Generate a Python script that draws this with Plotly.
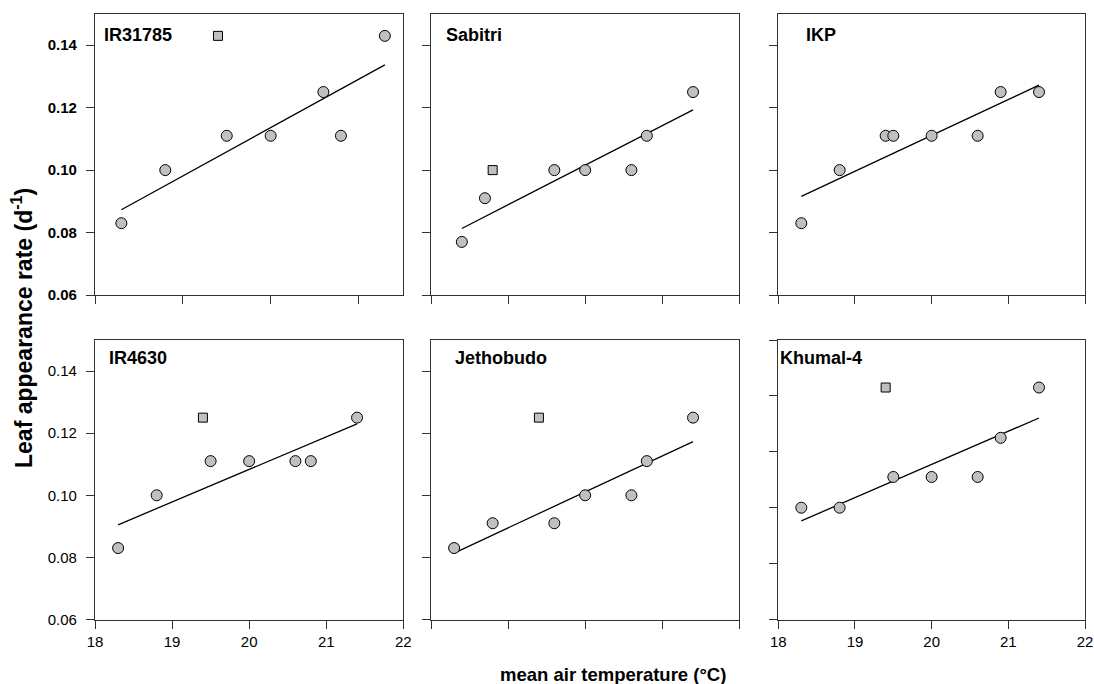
import plotly.graph_objects as go

FONT = "Liberation Sans, Arial, sans-serif"

names = ["IR31785", "Sabitri", "IKP", "IR4630", "Jethobudo", "Khumal-4"]

# circle observations (mean air temperature, leaf appearance rate)
circ_x = [
    [18.3, 18.8, 19.5, 20.0, 20.6, 20.8, 21.3],
    [18.4, 18.7, 19.6, 20.0, 20.6, 20.8, 21.4],
    [18.3, 18.8, 19.4, 19.5, 20.0, 20.6, 20.9, 21.4],
    [18.3, 18.8, 19.5, 20.0, 20.6, 20.8, 21.4],
    [18.3, 18.8, 19.6, 20.0, 20.6, 20.8, 21.4],
    [18.3, 18.8, 19.5, 20.0, 20.6, 20.9, 21.4],
]
circ_y = [
    [0.083, 0.100, 0.111, 0.111, 0.125, 0.111, 0.143],
    [0.077, 0.091, 0.100, 0.100, 0.100, 0.111, 0.125],
    [0.083, 0.100, 0.111, 0.111, 0.111, 0.111, 0.125, 0.125],
    [0.083, 0.100, 0.111, 0.111, 0.111, 0.111, 0.125],
    [0.083, 0.091, 0.091, 0.100, 0.100, 0.111, 0.125],
    [0.100, 0.100, 0.111, 0.111, 0.111, 0.125, 0.143],
]
# square (outlier) observations
sq_x = [[19.4], [18.8], [], [19.4], [19.4], [19.4]]
sq_y = [[0.143], [0.100], [], [0.125], [0.125], [0.143]]

# regression line end points
line_x = [[18.3, 21.3], [18.4, 21.4], [18.3, 21.4], [18.3, 21.4], [18.3, 21.4], [18.3, 21.4]]
line_y = [[0.0873, 0.1337], [0.0813, 0.1193], [0.0916, 0.1272],
          [0.0905, 0.1230], [0.0814, 0.1173], [0.0953, 0.1321]]

x_ranges = [[18, 21.51], [18, 22], [18, 22], [18, 22], [18, 22], [18, 22]]
y_ranges = [[0.06, 0.15], [0.06, 0.15], [0.06, 0.15], [0.06, 0.15], [0.06, 0.15], [0.06, 0.16]]
x_ticks = [18, 19, 20, 21, 22]
y_ticks = [0.06, 0.08, 0.10, 0.12, 0.14]
y_ticks_k = [0.06, 0.08, 0.10, 0.12, 0.14, 0.16]

W, H = 1094, 684
col_px = [(95, 403.3), (431, 739.3), (778.3, 1085)]
row_px = [(14, 295), (340, 619.5)]

fig = go.Figure()
for i in range(6):
    r, c = divmod(i, 3)
    ax = "" if i == 0 else str(i + 1)
    xa, ya = "x" + ax, "y" + ax
    fig.add_trace(go.Scatter(x=line_x[i], y=line_y[i], mode="lines",
                             line=dict(color="black", width=1.3),
                             xaxis=xa, yaxis=ya, showlegend=False, hoverinfo="skip"))
    fig.add_trace(go.Scatter(x=circ_x[i], y=circ_y[i], mode="markers",
                             marker=dict(symbol="circle", size=11, color="#c0c0c0",
                                         line=dict(color="black", width=1)),
                             xaxis=xa, yaxis=ya, showlegend=False))
    if sq_x[i]:
        fig.add_trace(go.Scatter(x=sq_x[i], y=sq_y[i], mode="markers",
                                 marker=dict(symbol="square", size=9, color="#c0c0c0",
                                             line=dict(color="black", width=1)),
                                 xaxis=xa, yaxis=ya, showlegend=False))
    x0, x1 = col_px[c]
    y0, y1 = row_px[r]
    show_xlab = (r == 1 and c != 1)
    show_ylab = (c == 0)
    tickfont = dict(family=FONT, size=15, color="black")
    yv = y_ticks_k if i == 5 else y_ticks
    if i == 0:
        yticktext = ["<b>%.2f</b>" % v for v in yv]
    else:
        yticktext = ["%.2f" % v for v in yv]
    xaxis = dict(domain=[x0 / W, x1 / W], range=x_ranges[i], anchor=ya,
                 tickmode="array", tickvals=x_ticks, ticktext=[str(v) for v in x_ticks],
                 showticklabels=show_xlab, ticks="outside", ticklen=8, tickwidth=1,
                 tickcolor="#333", showline=True, linecolor="#333", linewidth=1.2,
                 mirror=True, showgrid=False, zeroline=False, tickfont=tickfont,
                 automargin=False)
    yaxis = dict(domain=[1 - y1 / H, 1 - y0 / H], range=y_ranges[i], anchor=xa,
                 tickmode="array", tickvals=yv, ticktext=yticktext,
                 showticklabels=show_ylab, ticks="outside", ticklen=8, tickwidth=1,
                 ticklabelstandoff=6,
                 tickcolor="#333", showline=True, linecolor="#333", linewidth=1.2,
                 mirror=True, showgrid=False, zeroline=False, tickfont=tickfont,
                 automargin=False)
    fig.layout["xaxis" + ax] = xaxis
    fig.layout["yaxis" + ax] = yaxis

label_pos = [(101.7, 35), (444.3, 35), (804, 35), (107.3, 358.3), (453.3, 358.3), (778.3, 358.3)]
for i, (px, py) in enumerate(label_pos):
    fig.add_annotation(x=px / W, y=1 - py / H, xref="paper", yref="paper",
                       text="<b>%s</b>" % names[i], showarrow=False,
                       xanchor="left", yanchor="middle",
                       font=dict(family=FONT, size=18, color="black"))

fig.add_annotation(x=22 / W, y=1 - 328 / H, xref="paper", yref="paper",
                   text="<b>Leaf appearance rate (d<sup>-1</sup>)</b>", textangle=-90,
                   showarrow=False, xanchor="center", yanchor="middle",
                   font=dict(family=FONT, size=23, color="black"))
fig.add_annotation(x=613 / W, y=1 - 674 / H, xref="paper", yref="paper",
                   text="<b>mean air temperature (°C)</b>",
                   showarrow=False, xanchor="center", yanchor="middle",
                   font=dict(family=FONT, size=18.5, color="black"))

fig.update_layout(width=W, height=H, margin=dict(l=0, r=0, t=0, b=0),
                  plot_bgcolor="white", paper_bgcolor="white")
fig.write_html("out.html")
